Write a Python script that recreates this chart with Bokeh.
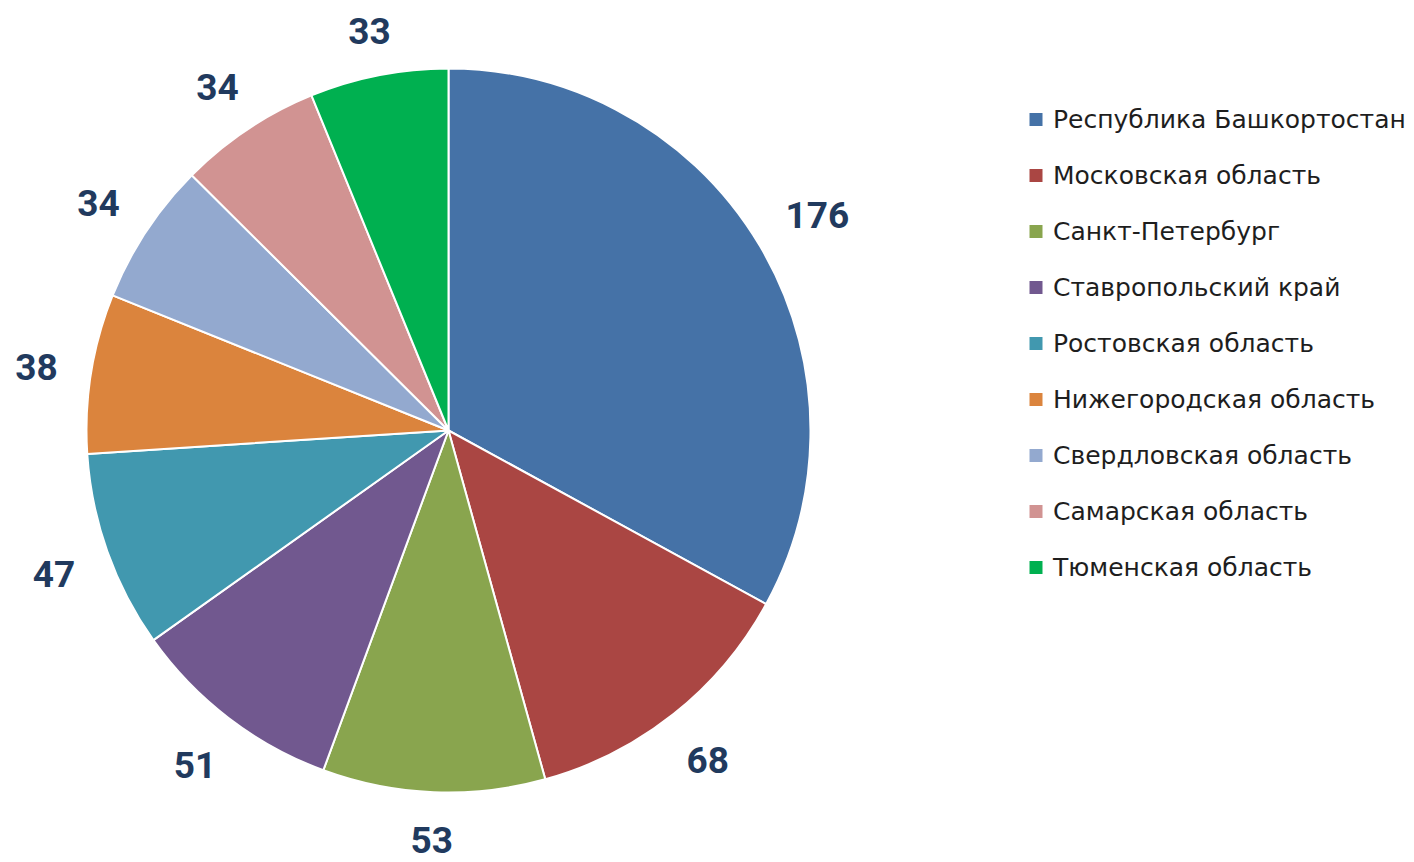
import math
from bokeh.plotting import figure
from bokeh.models import Range1d, ColumnDataSource
from bokeh.core.properties import value
from bokeh.embed import file_html
from bokeh.resources import INLINE

regions = ["Республика Башкортостан", "Московская область", "Санкт-Петербург",
           "Ставропольский край", "Ростовская область", "Нижегородская область",
           "Свердловская область", "Самарская область", "Тюменская область"]
counts = [176, 68, 53, 51, 47, 38, 34, 34, 33]
colors = ["#4572A7", "#AA4643", "#89A54E", "#71588F", "#4198AF",
          "#DB843D", "#93A9CF", "#D19392", "#00B050"]

W, H = 1414, 862
p = figure(width=W, height=H, output_backend="svg", toolbar_location=None,
           x_range=Range1d(0, W), y_range=Range1d(-H, 0),
           x_axis_type=None, y_axis_type=None, min_border=0)
p.outline_line_color = None
p.grid.visible = False

cx, cy, r = 448, -430, 362
total = sum(counts)
starts, ends, lx, ly = [], [], [], []
cum = 0.0
for c in counts:
    a0 = cum / total * 2 * math.pi
    cum += c
    a1 = cum / total * 2 * math.pi
    starts.append(math.pi / 2 - a0)
    ends.append(math.pi / 2 - a1)
    mid = (a0 + a1) / 2
    ux, uy = math.sin(mid), math.cos(mid)
    hw = 11.3 * len(str(c))
    hh = 13
    R = 393 + abs(ux) * hw + abs(uy) * hh
    lx.append(cx + ux * R)
    ly.append(cy + uy * R - 3)

src = ColumnDataSource(dict(start=starts, end=ends, color=colors,
                            lx=lx, ly=ly, txt=[str(c) for c in counts]))
p.wedge(x=cx, y=cy, radius=r, start_angle="start", end_angle="end",
        direction="clock", fill_color="color", line_color="white",
        line_width=2, source=src)
p.text(x="lx", y="ly", text="txt", source=src, text_align="center",
       text_baseline="middle", text_font=value("Roboto"), text_font_style="bold",
       text_font_size="37px", text_color="#213A5E")

lgx = 1035.5
lgy = [-(119 + 56 * i) for i in range(len(regions))]
lsrc = ColumnDataSource(dict(x=[lgx] * len(regions), y=lgy, color=colors,
                             tx=[lgx + 17] * len(regions), label=regions))
p.scatter(x="x", y="y", marker="square", size=13, fill_color="color",
          line_color=None, source=lsrc)
p.text(x="tx", y="y", text="label", source=lsrc, text_align="left",
       text_baseline="middle", text_font=value("DejaVu Sans"),
       text_font_size="25px", text_color="#1E1E1E")

open("out.html", "w").write(file_html(p, INLINE))
